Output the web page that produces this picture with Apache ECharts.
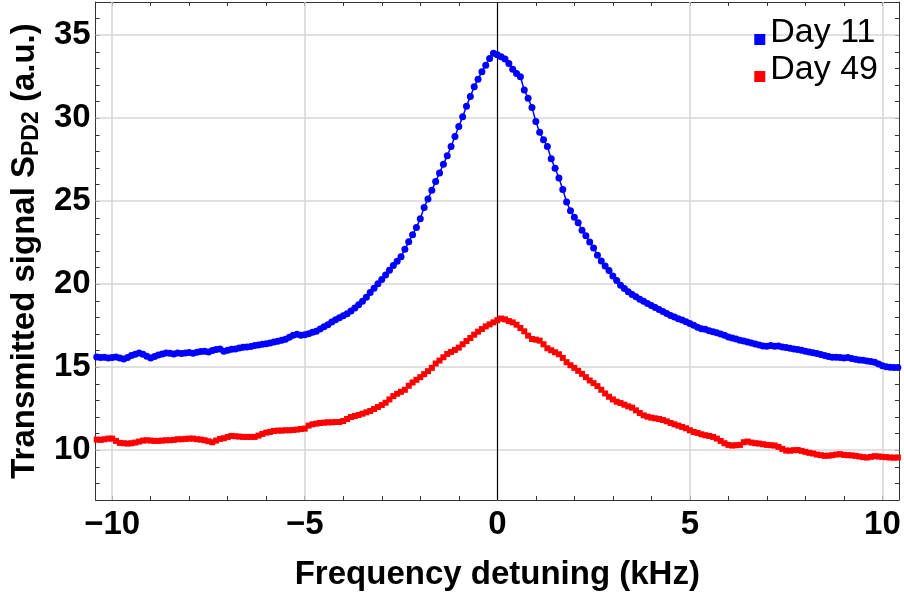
<!DOCTYPE html>
<html>
<head>
<meta charset="utf-8">
<script src="https://cdn.jsdelivr.net/npm/echarts@6/dist/echarts.min.js"></script>
<style>
  html, body { margin: 0; background: #fff; }
  #chart { width: 904px; height: 596px; }
</style>
</head>
<body>
<div id="chart"></div>
<script>
// frequency detuning (kHz), sampled every 0.1 kHz
const freq = [
  -10.4, -10.3, -10.2, -10.1, -10.0,
  -9.9, -9.8, -9.7, -9.6, -9.5, -9.4, -9.3, -9.2, -9.1, -9.0,
  -8.9, -8.8, -8.7, -8.6, -8.5, -8.4, -8.3, -8.2, -8.1, -8.0,
  -7.9, -7.8, -7.7, -7.6, -7.5, -7.4, -7.3, -7.2, -7.1, -7.0,
  -6.9, -6.8, -6.7, -6.6, -6.5, -6.4, -6.3, -6.2, -6.1, -6.0,
  -5.9, -5.8, -5.7, -5.6, -5.5, -5.4, -5.3, -5.2, -5.1, -5.0,
  -4.9, -4.8, -4.7, -4.6, -4.5, -4.4, -4.3, -4.2, -4.1, -4.0,
  -3.9, -3.8, -3.7, -3.6, -3.5, -3.4, -3.3, -3.2, -3.1, -3.0,
  -2.9, -2.8, -2.7, -2.6, -2.5, -2.4, -2.3, -2.2, -2.1, -2.0,
  -1.9, -1.8, -1.7, -1.6, -1.5, -1.4, -1.3, -1.2, -1.1, -1.0,
  -0.9, -0.8, -0.7, -0.6, -0.5, -0.4, -0.3, -0.2, -0.1, 0.0,
  0.1, 0.2, 0.3, 0.4, 0.5, 0.6, 0.7, 0.8, 0.9, 1.0,
  1.1, 1.2, 1.3, 1.4, 1.5, 1.6, 1.7, 1.8, 1.9, 2.0,
  2.1, 2.2, 2.3, 2.4, 2.5, 2.6, 2.7, 2.8, 2.9, 3.0,
  3.1, 3.2, 3.3, 3.4, 3.5, 3.6, 3.7, 3.8, 3.9, 4.0,
  4.1, 4.2, 4.3, 4.4, 4.5, 4.6, 4.7, 4.8, 4.9, 5.0,
  5.1, 5.2, 5.3, 5.4, 5.5, 5.6, 5.7, 5.8, 5.9, 6.0,
  6.1, 6.2, 6.3, 6.4, 6.5, 6.6, 6.7, 6.8, 6.9, 7.0,
  7.1, 7.2, 7.3, 7.4, 7.5, 7.6, 7.7, 7.8, 7.9, 8.0,
  8.1, 8.2, 8.3, 8.4, 8.5, 8.6, 8.7, 8.8, 8.9, 9.0,
  9.1, 9.2, 9.3, 9.4, 9.5, 9.6, 9.7, 9.8, 9.9, 10.0,
  10.1, 10.2, 10.3, 10.4
];

// transmitted signal, day 11 (a.u.)
const day11 = [
  15.62, 15.58, 15.6, 15.55, 15.58,
  15.62, 15.56, 15.5, 15.58, 15.7, 15.78, 15.85, 15.78, 15.66, 15.55,
  15.64, 15.74, 15.8, 15.86, 15.84, 15.8, 15.86, 15.82, 15.86, 15.88,
  15.84, 15.9, 15.94, 15.96, 15.92, 16.0, 16.06, 16.1, 15.96, 16.02,
  16.08, 16.1, 16.16, 16.2, 16.22, 16.24, 16.3, 16.33, 16.38, 16.42,
  16.46, 16.52, 16.56, 16.62, 16.68, 16.8, 16.92, 16.98, 16.93, 16.95,
  17.02, 17.1, 17.16, 17.3, 17.44, 17.56, 17.72, 17.86, 17.98, 18.1,
  18.22, 18.38, 18.56, 18.76, 18.98, 19.22, 19.5, 19.76, 20.02, 20.28,
  20.56, 20.84, 21.12, 21.38, 21.65, 22.1, 22.55, 22.98, 23.42, 23.95,
  24.62, 25.14, 25.66, 26.18, 26.7, 27.22, 27.74, 28.3, 28.9, 29.5,
  30.08, 30.72, 31.3, 31.89, 32.35, 32.8, 33.19, 33.6, 33.92, 33.82,
  33.7, 33.56, 33.3, 32.95, 32.7, 32.5, 31.7, 31.2, 30.65, 29.8,
  29.15, 28.7, 28.3, 27.55, 26.98, 26.4, 25.7, 24.95, 24.42, 24.04,
  23.7, 23.25, 22.92, 22.54, 22.18, 21.75, 21.4, 21.1, 20.82, 20.5,
  20.22, 19.94, 19.74, 19.54, 19.38, 19.24, 19.1, 18.98, 18.84, 18.72,
  18.6, 18.48, 18.36, 18.24, 18.12, 18.02, 17.92, 17.84, 17.74, 17.64,
  17.52, 17.4, 17.32, 17.28, 17.2, 17.14, 17.08, 17.0, 16.92, 16.82,
  16.76, 16.7, 16.62, 16.58, 16.52, 16.46, 16.4, 16.34, 16.28, 16.26,
  16.3, 16.26, 16.27, 16.22, 16.18, 16.14, 16.1, 16.06, 16.02, 15.96,
  15.92, 15.87, 15.82, 15.76, 15.7, 15.64, 15.6, 15.6, 15.58, 15.56,
  15.58, 15.52, 15.48, 15.44, 15.42, 15.38, 15.34, 15.3, 15.2, 15.08,
  15.02, 15.0, 14.98, 14.98
];

// transmitted signal, day 49 (a.u.)
const day49 = [
  10.64, 10.62, 10.66, 10.7, 10.7,
  10.56, 10.44, 10.42, 10.4, 10.42, 10.46, 10.52, 10.58, 10.6, 10.58,
  10.56, 10.56, 10.58, 10.6, 10.6, 10.62, 10.66, 10.66, 10.68, 10.7,
  10.7, 10.66, 10.64, 10.6, 10.54, 10.48, 10.58, 10.68, 10.72, 10.8,
  10.86, 10.84, 10.82, 10.8, 10.8, 10.8, 10.8, 10.88, 10.98, 11.06,
  11.1, 11.16, 11.18, 11.18, 11.2, 11.2, 11.22, 11.24, 11.28, 11.3,
  11.48, 11.56, 11.6, 11.64, 11.66, 11.68, 11.68, 11.7, 11.7, 11.76,
  11.88, 12.0, 12.06, 12.12, 12.2, 12.28, 12.36, 12.48, 12.6, 12.72,
  12.86, 13.06, 13.26, 13.4, 13.52, 13.64, 13.88, 14.08, 14.24, 14.4,
  14.58, 14.76, 14.96, 15.22, 15.4, 15.6, 15.8, 15.92, 16.04, 16.18,
  16.38, 16.58, 16.76, 16.96, 17.14, 17.3, 17.46, 17.58, 17.7, 17.83,
  17.93, 17.88, 17.78, 17.7, 17.56, 17.36, 17.16, 16.9, 16.7, 16.66,
  16.6, 16.38, 16.14, 16.02, 15.9, 15.78, 15.56, 15.3, 15.12, 14.96,
  14.78, 14.6, 14.4, 14.2, 14.04, 13.86, 13.64, 13.42, 13.22, 13.06,
  12.92, 12.84, 12.74, 12.64, 12.56, 12.4, 12.24, 12.1, 12.02, 11.96,
  11.92, 11.88, 11.82, 11.74, 11.64, 11.56, 11.48, 11.4, 11.32, 11.2,
  11.1, 11.04, 10.96, 10.9, 10.86, 10.8, 10.7, 10.56, 10.42, 10.32,
  10.28, 10.3, 10.32, 10.48, 10.52, 10.46, 10.42, 10.4, 10.36, 10.32,
  10.3, 10.28, 10.2, 10.08, 9.98, 9.97, 10.0, 10.01, 9.96, 9.9,
  9.84, 9.8, 9.74, 9.7, 9.66, 9.67, 9.7, 9.74, 9.76, 9.72,
  9.7, 9.69, 9.66, 9.62, 9.58, 9.56, 9.6, 9.64, 9.62, 9.6,
  9.58, 9.56, 9.55, 9.56
];

const xLabels = [-10, -5, 0, 5, 10];
const xTicks = [-10, -9, -8, -7, -6, -5, -4, -3, -2, -1, 0, 1, 2, 3, 4, 5, 6, 7, 8, 9, 10];
const yLabels = [10, 15, 20, 25, 30, 35];
const yTicks = [8, 9, 10, 11, 12, 13, 14, 15, 16, 17, 18, 19, 20, 21, 22, 23, 24, 25, 26, 27, 28, 29, 30, 31, 32, 33, 34, 35, 36];

const fontFamily = '"Liberation Sans", Arial, sans-serif';
const frameColor = '#333';

function minusSign(v) {
    return v < 0 ? '\u2212' + Math.abs(v) : String(v);
}

function xAxisDef(position, showLabels) {
    return {
        type: 'value',
        position: position,
        min: -10.43,
        max: 10.43,
        axisLine: { show: true, onZero: false, lineStyle: { color: frameColor, width: 1 } },
        axisTick: { show: true, inside: true, length: 4, customValues: xTicks, lineStyle: { color: frameColor } },
        axisLabel: {
            show: showLabels,
            customValues: xLabels,
            formatter: minusSign,
            color: '#000',
            fontSize: 33,
            fontWeight: 'bold',
            fontFamily: fontFamily,
            margin: 8
        },
        splitLine: { show: false }
    };
}

function yAxisDef(position, showLabels) {
    return {
        type: 'value',
        position: position,
        min: 7,
        max: 37,
        axisLine: { show: true, onZero: false, lineStyle: { color: frameColor, width: 1 } },
        axisTick: { show: true, inside: true, length: 4, customValues: yTicks, lineStyle: { color: frameColor } },
        axisLabel: {
            show: showLabels,
            customValues: yLabels,
            color: '#000',
            fontSize: 33,
            fontWeight: 'bold',
            fontFamily: fontFamily,
            margin: 5
        },
        splitLine: { show: false }
    };
}

const xAxisBottom = xAxisDef('bottom', true);
xAxisBottom.name = 'Frequency detuning (kHz)';
xAxisBottom.nameLocation = 'middle';
xAxisBottom.nameGap = 58;
xAxisBottom.nameTextStyle = { color: '#000', fontSize: 33, fontWeight: 'bold', fontFamily: fontFamily };

const yAxisLeft = yAxisDef('left', true);
yAxisLeft.name = '{t|Transmitted signal S}{s|PD2}{t| (a.u.)}';
yAxisLeft.nameLocation = 'middle';
yAxisLeft.nameGap = 48;
yAxisLeft.nameTextStyle = {
    rich: {
        t: { color: '#000', fontSize: 33, fontWeight: 'bold', fontFamily: fontFamily },
        s: { color: '#000', fontSize: 23, fontWeight: 'bold', fontFamily: fontFamily, padding: [14, 0, 0, 0] }
    }
};

// square sitting in the lower part of its box, so it lines up with the text baseline
const legendIcon = 'path://M0,0M0,13L11,13L11,24L0,24Z';

const chart = echarts.init(document.getElementById('chart'));

const option = {
    animation: false,
    backgroundColor: '#fff',
    grid: { left: 94, right: 5, top: 2, bottom: 96 },
    legend: {
        data: ['Day 11', 'Day 49'],
        orient: 'vertical',
        right: 26,
        top: 16,
        itemGap: 3,
        itemWidth: 11,
        itemHeight: 24,
        icon: legendIcon,
        padding: 0,
        textStyle: { color: '#000', fontSize: 34, fontFamily: fontFamily }
    },
    xAxis: [xAxisBottom, xAxisDef('top', false)],
    yAxis: [yAxisLeft, yAxisDef('right', false)],
    series: [
        {
            // gridlines and the x = 0 axis, kept under the data
            name: 'frame',
            type: 'line',
            data: [[0, 20]],
            symbol: 'none',
            lineStyle: { opacity: 0 },
            silent: true,
            z: 1,
            markLine: {
                z: 1,
                silent: true,
                symbol: ['none', 'none'],
                label: { show: false },
                lineStyle: { color: '#d6d6d6', width: 1.5, type: 'solid' },
                data: [
                    ...xLabels.filter(v => v !== 0).map(v => ({ xAxis: v })),
                    ...yLabels.map(v => ({ yAxis: v })),
                    { xAxis: 0, lineStyle: { color: '#000', width: 1.2, type: 'solid' } }
                ]
            }
        },
        {
            name: 'Day 11',
            type: 'line',
            data: freq.map((f, i) => [f, day11[i]]),
            symbol: 'circle',
            symbolSize: 7,
            showAllSymbol: true,
            itemStyle: { color: '#0000ff' },
            lineStyle: { color: '#0000ff', width: 1.5 },
            z: 3
        },
        {
            name: 'Day 49',
            type: 'line',
            data: freq.map((f, i) => [f, day49[i]]),
            symbol: 'rect',
            symbolSize: 6,
            showAllSymbol: true,
            itemStyle: { color: '#ff0000' },
            lineStyle: { color: '#ff0000', width: 1.5 },
            z: 3
        }
    ]
};

chart.setOption(option);
</script>
</body>
</html>
